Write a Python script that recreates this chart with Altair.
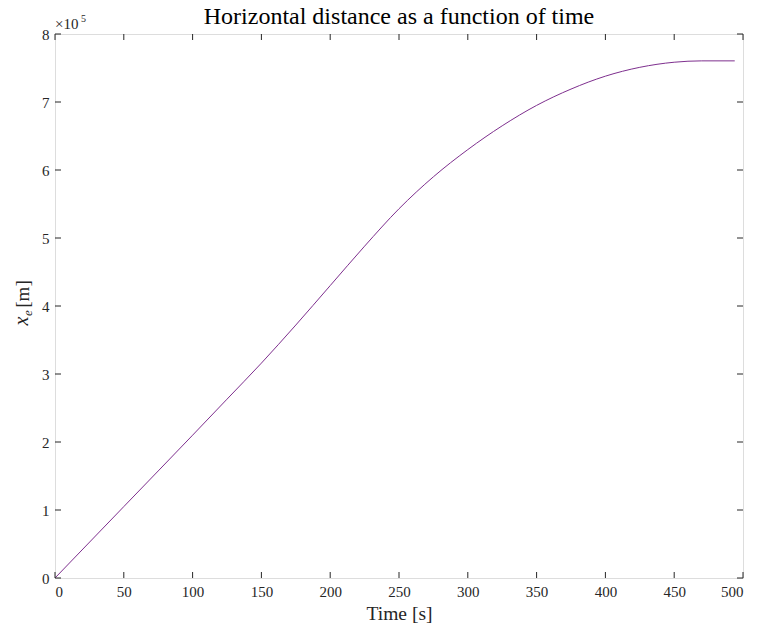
import altair as alt
import pandas as pd

# Data (time in s, horizontal distance in m)
time_s = [0, 50, 100, 125, 150, 175, 200, 225, 250, 275, 300, 325, 350, 375, 400,
          425, 450, 470, 494]
dist_m = [0, 105000, 210000, 263000, 316000, 372000, 430000, 488000, 543000, 590000,
          630000, 665000, 695000, 719000, 738000, 751000, 758500, 760500, 760500]

x_ticks = [0, 50, 100, 150, 200, 250, 300, 350, 400, 450, 500]
y_ticks = [0, 100000, 200000, 300000, 400000, 500000, 600000, 700000, 800000]

W, H = 688, 544
AX = "#262626"
LINE = "#7E2F8E"
FONT = "Liberation Serif"

df = pd.DataFrame({"t": time_s, "x": dist_m})
xt = pd.DataFrame({"v": x_ticks})
yt = pd.DataFrame({"v": y_ticks})

xs = alt.Scale(domain=[0, 500], nice=False, zero=False)
ys = alt.Scale(domain=[0, 800000], nice=False, zero=False)

line = alt.Chart(df).mark_line(color=LINE, strokeWidth=1, interpolate="monotone").encode(
    x=alt.X("t:Q", scale=xs,
            axis=alt.Axis(values=x_ticks, ticks=False, domain=False, grid=False,
                          labelFont=FONT, labelFontSize=15, labelColor=AX, labelPadding=6,
                          title="Time [s]", titleFont=FONT, titleFontSize=19.5,
                          titleFontWeight="normal", titleColor=AX, titlePadding=5)),
    y=alt.Y("x:Q", scale=ys,
            axis=alt.Axis(values=y_ticks, ticks=False, domain=False, grid=False,
                          labelExpr="datum.value/100000",
                          labelFont=FONT, labelFontSize=15, labelColor=AX, labelPadding=6,
                          title=None)),
)

tick_b = alt.Chart(xt).mark_rule(color=AX, strokeWidth=1).encode(
    x=alt.X("v:Q", scale=xs), y=alt.value(H), y2=alt.value(H - 6))
tick_t = alt.Chart(xt).mark_rule(color=AX, strokeWidth=1).encode(
    x=alt.X("v:Q", scale=xs), y=alt.value(0), y2=alt.value(6))
tick_l = alt.Chart(yt).mark_rule(color=AX, strokeWidth=1).encode(
    y=alt.Y("v:Q", scale=ys), x=alt.value(0), x2=alt.value(6))
tick_r = alt.Chart(yt).mark_rule(color=AX, strokeWidth=1).encode(
    y=alt.Y("v:Q", scale=ys), x=alt.value(W), x2=alt.value(W - 6))

def label(s, color=AX, **kw):
    enc = {k: alt.value(v) for k, v in kw.pop("pos").items()}
    return alt.Chart(pd.DataFrame({"s": [s]})).mark_text(font=FONT, color=color, **kw).encode(
        text="s:N", **enc)

ytitle_m = label("[m]", fontSize=19, angle=270, baseline="middle", align="center",
                 pos={"x": -32, "y": 260})
ytitle_x = label("x", fontSize=20, fontStyle="italic", angle=270, baseline="middle",
                 align="center", pos={"x": -33, "y": 287})
ytitle_e = label("e", fontSize=13, fontStyle="italic", angle=270, baseline="middle",
                 align="center", pos={"x": -27, "y": 279})
expo = label("×10", fontSize=15, align="left", baseline="alphabetic", pos={"x": 0, "y": -5})
expo5 = label("5", fontSize=10, align="left", baseline="alphabetic", pos={"x": 26, "y": -12})
title = label("Horizontal distance as a function of time", color="#000000", fontSize=24,
              align="center", baseline="middle", pos={"x": W / 2, "y": -17})

chart = alt.layer(line, tick_b, tick_t, tick_l, tick_r, ytitle_m, ytitle_x, ytitle_e,
                  expo, expo5, title).properties(
    width=W, height=H,
    padding={"left": 55, "top": 34, "right": 14, "bottom": 52},
    autosize="none",
).configure_view(stroke=AX, strokeWidth=1).configure(background="white")

chart.save("out.html", embed_options={"renderer": "svg", "actions": False})
